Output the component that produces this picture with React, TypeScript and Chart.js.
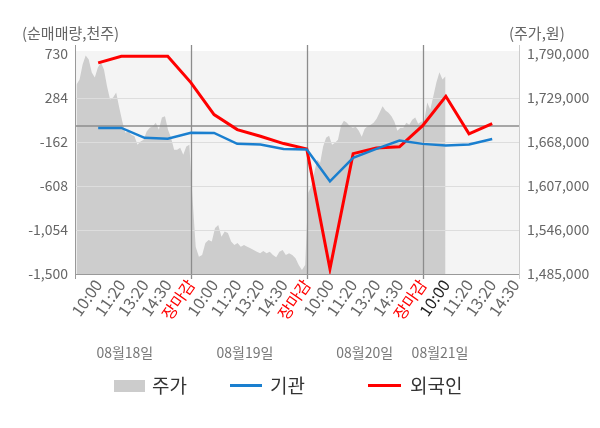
import { useEffect, useRef } from "react"
import { Chart, registerables } from "chart.js"

Chart.register(...registerables)

const FONT = "'Noto Sans CJK KR', 'Noto Sans', sans-serif"

// x axis labels (one slot each)
const timeLabels = [
  "10:00", "11:20", "13:20", "14:30", "장마감",
  "10:00", "11:20", "13:20", "14:30", "장마감",
  "10:00", "11:20", "13:20", "14:30", "장마감",
  "10:00", "11:20", "13:20", "14:30",
]
const dayLabels = ["08월18일", "08월19일", "08월20일", "08월21일"]
const dayLabelAt = [2.15, 7.33, 12.5, 15.75]

const volumeTicks = [730, 284, -162, -608, -1054, -1500]
const priceTicks = [1790000, 1729000, 1668000, 1607000, 1546000, 1485000]

// 순매매량 (천주), one value per time slot
const institution = [-19, -19, -120, -128, -68, -70, -181, -188, -232, -239, -560, -323, -232, -148, -181, -198, -188, -131]
const foreign = [640, 707, 707, 707, 440, 116, -36, -104, -178, -232, -1448, -280, -222, -210, 4, 301, -80, 25]

// 주가 (원), intraday
const priceDay1 = [
  1747600, 1754600, 1775400, 1787900, 1782400, 1764300, 1757300, 1771200, 1778200, 1768500,
  1745300, 1726800, 1729600, 1736500, 1715700, 1696600, 1680900, 1682700, 1678100, 1675800,
  1664200, 1668800, 1671200, 1682700, 1687900, 1689700, 1694800, 1685100, 1701800, 1703600,
  1685100, 1674000, 1657300, 1657300, 1660100, 1650400, 1661900, 1664200,
]
const priceDay2 = [
  1590600, 1522500, 1509000, 1511400, 1528100, 1532200, 1529900, 1548900, 1553100, 1536800,
  1543800, 1542000, 1529900, 1525300, 1528100, 1522900, 1525300, 1522900, 1520700, 1518300,
  1516000, 1513800, 1517000, 1513800, 1516000, 1511400, 1508200, 1516000, 1518300, 1511400,
  1513800, 1511400, 1506800, 1497500, 1490600, 1497500,
]
const priceDay3 = [
  1597500, 1606300, 1625300, 1643400, 1639200, 1661900, 1674000, 1676800, 1664200, 1667000,
  1671200, 1690600, 1697600, 1694800, 1689700, 1687900, 1689300, 1683700, 1675400, 1686500,
  1689700, 1692000, 1694800, 1700400, 1708700, 1717700, 1711500, 1708700, 1703600, 1696200,
  1683700, 1687900, 1687900, 1694800, 1692000, 1699000, 1701800, 1693400, 1696200,
]
const priceDay4 = [1696600, 1722600, 1712900, 1731400, 1750400, 1764700, 1754600, 1759100]

const SLOTS_PER_DAY = 5
const closeIndex = timeLabels.lastIndexOf("장마감")

function pricePoints() {
  const days = [priceDay1, priceDay2, priceDay3]
  const pts: { x: number; y: number }[] = []
  days.forEach((day, d) => {
    day.forEach((v, i) => pts.push({ x: d * SLOTS_PER_DAY + ((i + 0.5) * SLOTS_PER_DAY) / day.length, y: v }))
  })
  // session still running: same minute step as a full day
  const step = SLOTS_PER_DAY / priceDay1.length
  priceDay4.forEach((v, i) => pts.push({ x: 3 * SLOTS_PER_DAY + (i + 0.5) * step, y: v }))
  return pts
}

const framePlugin = {
  id: "frame",
  beforeDatasetsDraw(chart: any) {
    const { ctx, chartArea: a } = chart
    ctx.save()
    ctx.fillStyle = "#f4f4f4"
    ctx.fillRect(a.left, a.top - 3, a.right - a.left, a.bottom - a.top + 3)
    ctx.restore()
  },
  afterDatasetDraw(chart: any, args: any) {
    if (args.index !== 0) return
    const { ctx, chartArea: a, scales } = chart
    const seg = (x1: number, y1: number, x2: number, y2: number) => {
      ctx.beginPath()
      ctx.moveTo(x1, y1)
      ctx.lineTo(x2, y2)
      ctx.stroke()
    }
    ctx.save()
    ctx.lineWidth = 1
    ctx.strokeStyle = "#dddddd"
    volumeTicks.slice(1, -1).forEach((v) => {
      const py = Math.round(scales.y.getPixelForValue(v)) + 0.5
      seg(a.left, py, a.right, py)
    })
    ctx.strokeStyle = "#8c8c8c"
    ctx.lineWidth = 1.3
    const zy = scales.y.getPixelForValue(0)
    seg(a.left, zy, a.right, zy)
    const top = a.top - 9
    timeLabels.forEach((l, i) => {
      if (l !== "장마감") return
      const px = Math.round(scales.x.getPixelForValue(i + 1)) + 0.5
      seg(px, top, px, a.bottom + 5)
    })
    ctx.lineWidth = 1
    ctx.strokeStyle = "#999999"
    seg(a.left + 0.5, top, a.left + 0.5, a.bottom + 5)
    seg(a.left, a.bottom + 0.5, a.right, a.bottom + 0.5)
    ctx.strokeStyle = "#cccccc"
    seg(a.right - 0.5, top, a.right - 0.5, a.bottom + 5)
    ctx.restore()
  },
  afterDraw(chart: any) {
    const { ctx, chartArea: a, scales } = chart
    ctx.save()
    ctx.font = `14px ${FONT}`
    ctx.fillStyle = "#777777"
    ctx.textAlign = "center"
    ctx.textBaseline = "middle"
    dayLabels.forEach((l, i) => ctx.fillText(l, scales.x.getPixelForValue(dayLabelAt[i]), a.bottom + 79))
    ctx.restore()
  },
}

const tickFont = { family: FONT, size: 14 }

export default function App() {
  const canvasRef = useRef<HTMLCanvasElement>(null)

  useEffect(() => {
    if (!canvasRef.current) return
    Chart.defaults.font.family = FONT

    const chart = new Chart(canvasRef.current, {
      type: "line",
      data: {
        datasets: [
          {
            label: "주가",
            data: pricePoints(),
            yAxisID: "y1",
            fill: "start",
            backgroundColor: "#cdcdcd",
            borderColor: "rgba(0,0,0,0)",
            borderWidth: 0,
            pointRadius: 0,
            tension: 0,
            order: 3,
          },
          {
            label: "기관",
            data: institution.map((v, i) => ({ x: i + 1, y: v })),
            yAxisID: "y",
            borderColor: "#1a7fcf",
            borderWidth: 2.5,
            pointRadius: 0,
            fill: false,
            order: 1,
          },
          {
            label: "외국인",
            data: foreign.map((v, i) => ({ x: i + 1, y: v })),
            yAxisID: "y",
            borderColor: "#ff0000",
            borderWidth: 3,
            pointRadius: 0,
            fill: false,
            order: 2,
          },
        ],
      },
      options: {
        responsive: false,
        animation: false,
        events: [],
        layout: { padding: { top: 54, left: 0, right: 0, bottom: 0 } },
        plugins: { legend: { display: false }, tooltip: { enabled: false } },
        scales: {
          x: {
            type: "linear",
            min: 0,
            max: 19.2,
            afterBuildTicks: (s: any) => {
              s.ticks = timeLabels.map((_, i) => ({ value: i + 1 }))
            },
            afterFit: (s: any) => {
              s.height = 154
            },
            grid: { display: false, drawTicks: false },
            border: { display: false },
            ticks: {
              autoSkip: false,
              minRotation: 55,
              maxRotation: 55,
              padding: 2,
              font: { family: FONT, size: 16 },
              color: (c: any) =>
                timeLabels[c.index] === "장마감" ? "#ff0000" : c.index === closeIndex + 1 ? "#222222" : "#666666",
              callback: (_v: any, i: number) => timeLabels[i] ?? "",
            },
          },
          y: {
            position: "left",
            min: -1500,
            max: 730,
            afterBuildTicks: (s: any) => {
              s.ticks = volumeTicks.map((v) => ({ value: v }))
            },
            afterFit: (s: any) => {
              s.width = 75
            },
            grid: { display: false, drawTicks: false },
            border: { display: false },
            ticks: {
              padding: 7,
              color: "#666666",
              font: tickFont,
              callback: (v: any) => Number(v).toLocaleString("en-US"),
            },
          },
          y1: {
            position: "right",
            min: 1485000,
            max: 1790000,
            afterBuildTicks: (s: any) => {
              s.ticks = priceTicks.map((v) => ({ value: v }))
            },
            afterFit: (s: any) => {
              s.width = 80
            },
            grid: { display: false, drawTicks: false },
            border: { display: false },
            ticks: {
              padding: 7,
              color: "#666666",
              font: tickFont,
              callback: (v: any) => Number(v).toLocaleString("en-US"),
            },
          },
        },
      },
      plugins: [framePlugin],
    } as any)

    return () => chart.destroy()
  }, [])

  const legendText = { position: "absolute" as const, top: 372, fontSize: 19, lineHeight: "26px", color: "#333" }
  const title = { position: "absolute" as const, top: 22, fontSize: 15, lineHeight: "22px", color: "#666" }

  return (
    <div style={{ position: "fixed", left: 0, top: 0, width: 600, height: 428, background: "#fff", fontFamily: FONT }}>
      <canvas ref={canvasRef} width={600} height={428} style={{ display: "block" }} />
      <span style={{ ...title, left: 22 }}>(순매매량,천주)</span>
      <span style={{ ...title, left: 509 }}>(주가,원)</span>
      <div style={{ position: "absolute", left: 114, top: 380, width: 31, height: 12, background: "#cccccc" }} />
      <span style={{ ...legendText, left: 152 }}>주가</span>
      <div style={{ position: "absolute", left: 230, top: 384, width: 32, height: 3, background: "#1a7fcf" }} />
      <span style={{ ...legendText, left: 270 }}>기관</span>
      <div style={{ position: "absolute", left: 368, top: 384, width: 33, height: 3, background: "#ff0000" }} />
      <span style={{ ...legendText, left: 410 }}>외국인</span>
    </div>
  )
}
